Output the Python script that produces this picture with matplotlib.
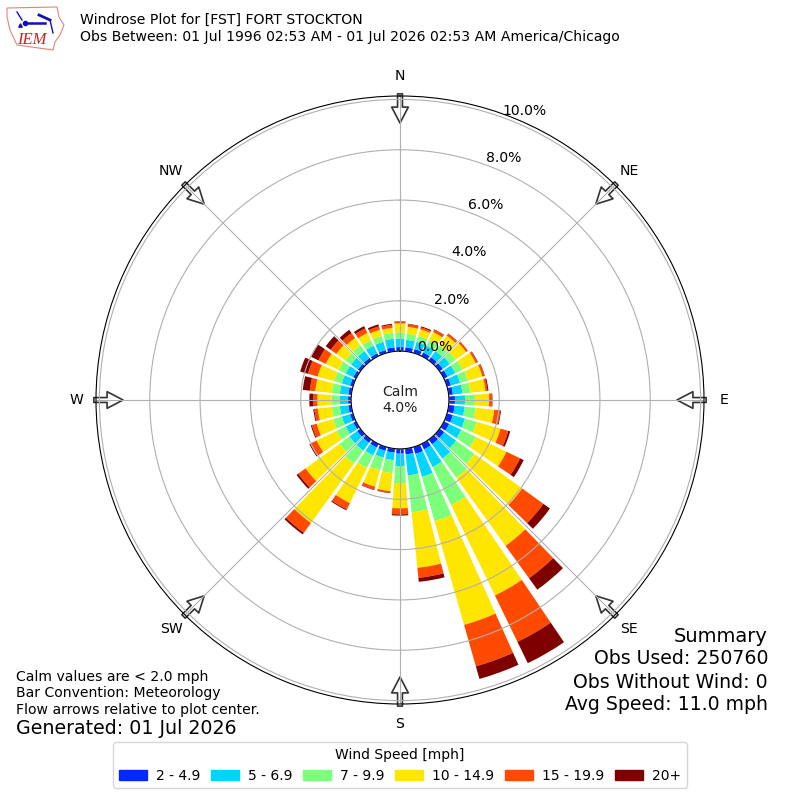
import numpy as np
import matplotlib
matplotlib.use("Agg")
import matplotlib.pyplot as plt
from matplotlib.patches import Patch, Polygon

# percent of obs per 10 degree bin, starting at N going clockwise
dirs = np.arange(0, 360, 10)
speed_2_5 = [.16,.16,.16,.16,.16,.16,.16,.16,.17,.24,.24,.24,.23,.23,.23,.24,.28,.23,
             .19,.16,.16,.16,.16,.16,.12,.12,.12,.12,.12,.12,.12,.12,.12,.12,.12,.16]
speed_5_7 = [.34,.30,.30,.30,.30,.34,.34,.38,.38,.40,.40,.50,.54,.58,.70,.78,.95,.84,
             .49,.30,.28,.34,.38,.38,.34,.34,.34,.34,.34,.34,.34,.34,.34,.34,.34,.34]
speed_7_10 = [.24,.24,.24,.24,.28,.28,.32,.32,.32,.40,.44,.48,.64,.90,.94,1.68,1.83,1.47,
              .68,.52,.52,.56,.64,.48,.40,.36,.32,.32,.32,.32,.32,.28,.28,.24,.24,.24]
speed_10_15 = [.36,.28,.28,.36,.48,.52,.58,.60,.60,.56,.74,.99,1.35,2.34,3.34,3.99,4.29,2.22,
               1.00,.72,.68,1.55,2.91,1.67,.88,.68,.56,.56,.66,.68,.56,.44,.36,.32,.26,.20]
speed_15_20 = [.08,.10,.08,.10,.08,.08,.08,.08,.08,.11,.24,.32,.60,1.04,1.59,2.05,1.71,.40,
               .24,.06,.12,.28,.48,.36,.28,.20,.14,.16,.22,.40,.32,.28,.24,.20,.14,.12]
speed_20 = [.01,.02,.04,.02,.02,.01,.02,.02,.04,.02,.03,.08,.16,.32,.56,.94,.52,.16,
            .05,.02,.02,.04,.08,.08,.04,.04,.04,.16,.28,.32,.32,.24,.16,.10,.08,.04]

series = [speed_2_5, speed_5_7, speed_7_10, speed_10_15, speed_15_20, speed_20]
labels = ["2 - 4.9", "5 - 6.9", "7 - 9.9", "10 - 14.9", "15 - 19.9", "20+"]
colors = ["#0028ff", "#00d4ff", "#7cff7a", "#ffe600", "#ff4a00", "#7f0000"]
compass = ["N", "NE", "E", "SE", "S", "SW", "W", "NW"]
rings = [0, 2, 4, 6, 8, 10]

fig = plt.figure(figsize=(8, 8), dpi=100)
ax = fig.add_axes([96 / 800, 96 / 800, 608 / 800, 608 / 800], projection="polar")
ax.set_theta_zero_location("N")
ax.set_theta_direction(-1)

# stacked bars
bottom = np.zeros(36)
for vals, col in zip(series, colors):
    ax.bar(np.deg2rad(dirs), vals, width=np.deg2rad(8.2), bottom=bottom, color=col, lw=0)
    bottom += np.array(vals)

ax.set_rorigin(-1.943)
ax.set_rmin(0)
ax.set_rmax(10.135)
ax.set_rgrids(rings, [f"{v:.1f}%" for v in rings], fontsize=10.1, angle=20)
ax.set_thetagrids(np.arange(0, 360, 45), compass, fontsize=10.1)
ax.tick_params(axis="x", pad=3.6)
ax.grid(True, color="#b0b0b0", lw=0.8)

# arrows on the compass points, pointing at the centre
for a in np.arange(0, 360, 45):
    ax.annotate("", xy=(np.deg2rad(a), 9.06), xytext=(np.deg2rad(a), 10.22),
                annotation_clip=False, zorder=1,
                arrowprops=dict(width=3.5, headwidth=12, headlength=11.5, fc="white",
                                ec="#333333", lw=1.2, shrink=0))

ax.text(0, -1.943, "Calm\n4.0%", ha="center", va="center", fontsize=10.1, color="#222222")

# logo
logo = fig.add_axes([0, 1 - 60 / 800, 80 / 800, 60 / 800])
logo.set_xlim(0, 80)
logo.set_ylim(60, 0)
logo.axis("off")
logo.add_patch(Polygon([(7, 8), (57, 7), (59, 17), (64, 25), (60, 35), (55, 42), (53, 50),
                        (17, 45), (10, 30), (7, 17)],
                       fc="white", ec="#e88080", lw=0.8))
logo.plot([25, 45], [23, 23], color="#1010c0", lw=1.8)
logo.plot([39, 50], [15, 20], color="#1010c0", lw=2)
logo.plot([17, 22], [12, 20], color="#1010c0", lw=1)
logo.plot([25], [23], "o", color="#1010c0", ms=3)
logo.plot([20], [25], "^", color="#1010c0", ms=2.5)
logo.plot([50, 53], [20, 33], color="#1010c0", lw=1)
logo.text(17, 44, "IEM", color="#d02020", fontsize=12, family="Liberation Serif",
          style="italic", va="baseline")

fig.text(80 / 800, 1 - 20 / 800, "Windrose Plot for [FST] FORT STOCKTON", fontsize=10.1, va="center")
fig.text(80 / 800, 1 - 37 / 800,
         "Obs Between: 01 Jul 1996 02:53 AM - 01 Jul 2026 02:53 AM America/Chicago",
         fontsize=10.1, va="center")

fig.text(16 / 800, 1 - 677 / 800, "Calm values are < 2.0 mph", fontsize=10.1, va="center")
fig.text(16 / 800, 1 - 693 / 800, "Bar Convention: Meteorology", fontsize=10.1, va="center")
fig.text(16 / 800, 1 - 710 / 800, "Flow arrows relative to plot center.", fontsize=10.1, va="center")
fig.text(16 / 800, 1 - 729 / 800, "Generated: 01 Jul 2026", fontsize=13.7, va="center")

fig.text(768 / 800, 1 - 636 / 800, "Summary", fontsize=14, ha="right", va="center")
fig.text(768 / 800, 1 - 659 / 800, "Obs Used: 250760", fontsize=13.6, ha="right", va="center")
fig.text(768 / 800, 1 - 682 / 800, "Obs Without Wind: 0", fontsize=13.6, ha="right", va="center")
fig.text(768 / 800, 1 - 705 / 800, "Avg Speed: 11.0 mph", fontsize=13.6, ha="right", va="center")

handles = [Patch(color=c, label=l) for c, l in zip(colors, labels)]
fig.legend(handles=handles, title="Wind Speed [mph]", ncol=6, fontsize=10,
           title_fontsize=10, loc="lower center", bbox_to_anchor=(0.5, 0.006),
           handlelength=2.0, handletextpad=0.65, columnspacing=0.785)

fig.savefig("out.png", dpi=100)
